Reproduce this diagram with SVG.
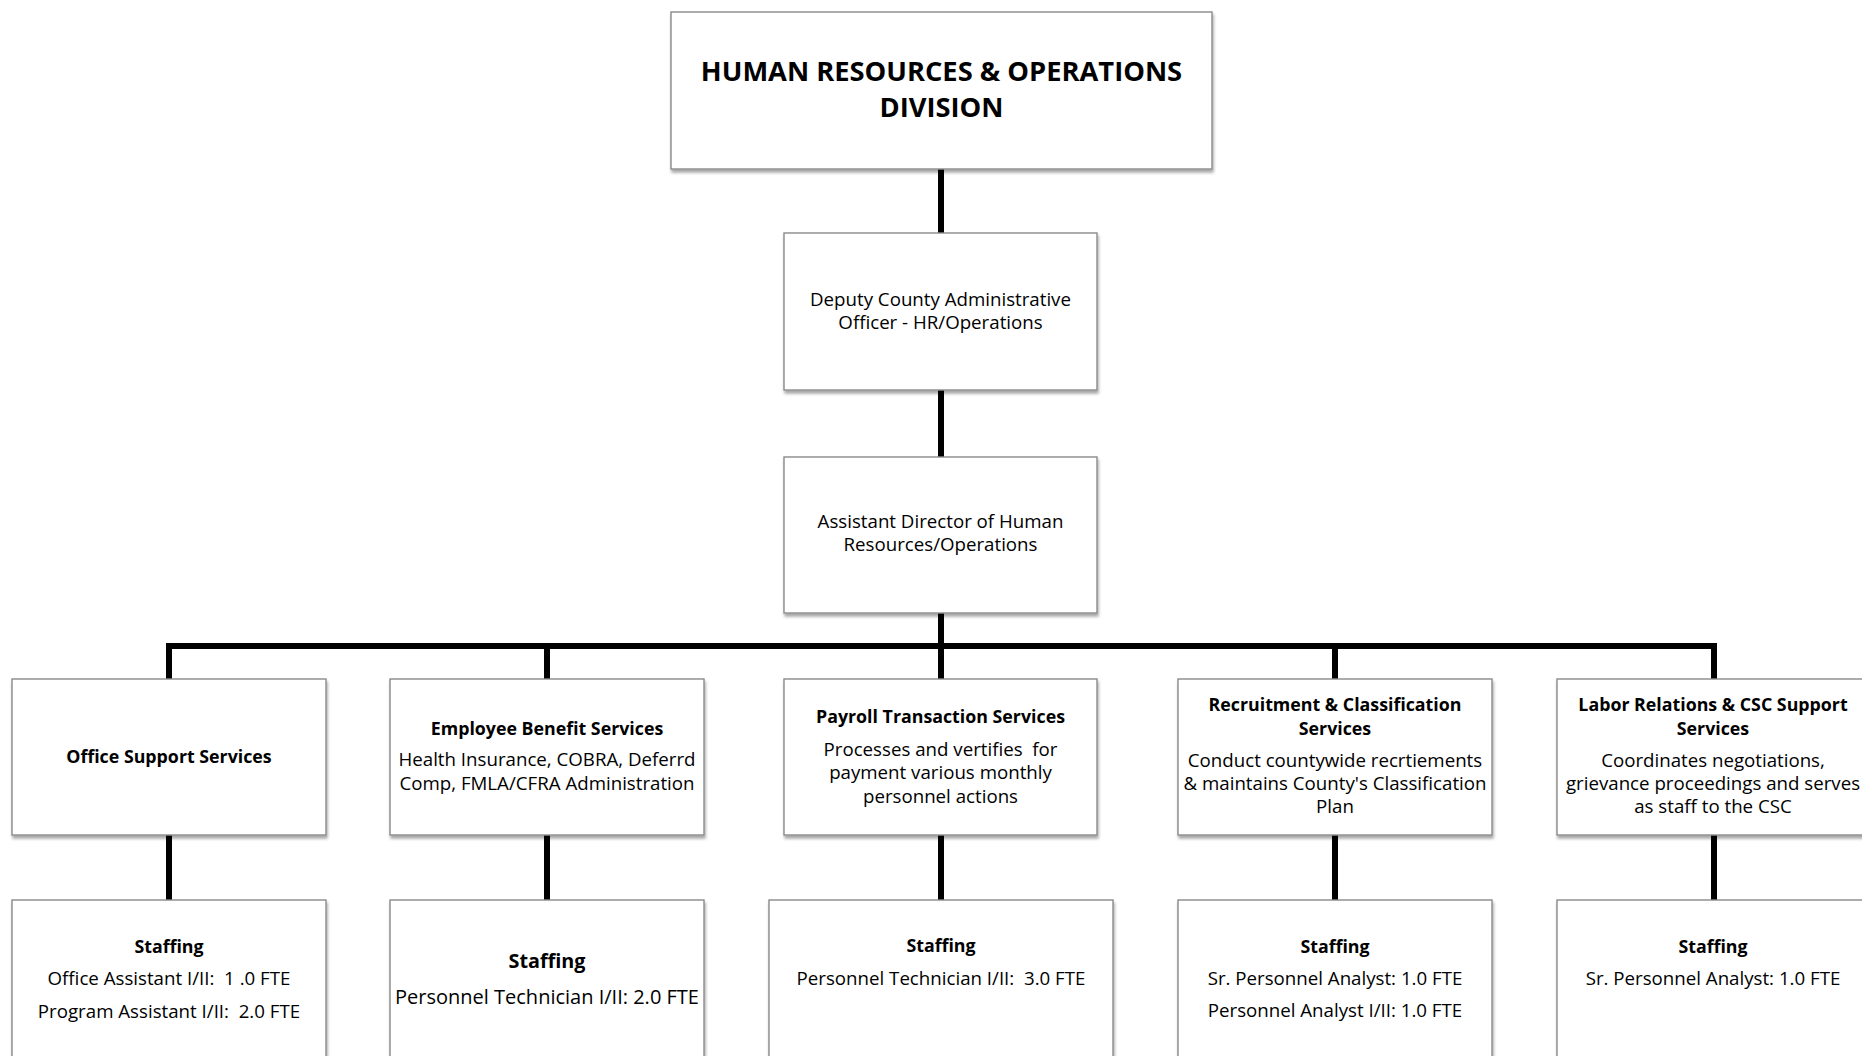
<svg xmlns="http://www.w3.org/2000/svg" width="1862" height="1056" viewBox="0 0 1862 1056" xml:space="preserve">
<style>
.box{fill:#fff;stroke:#8a8a8a;stroke-width:1.4;filter:url(#sh)}
.ln{fill:none;stroke:#000;stroke-width:6;stroke-linejoin:miter;stroke-linecap:butt}
text{font-family:"Open Sans",Lato,"Liberation Sans",sans-serif;fill:#000;text-anchor:middle;white-space:pre}
.t{font-size:18.7px}
.b{font-size:17.8px;font-weight:700}
.h{font-size:27.3px;font-weight:700}
.sb{font-size:19.8px;font-weight:700}
.s2{font-size:20px}
</style>
<defs>
<filter id="sh" x="-5%" y="-5%" width="115%" height="120%">
<feDropShadow dx="1" dy="3" stdDeviation="1.6" flood-color="#000" flood-opacity="0.35"/>
</filter>
</defs>
<rect width="1862" height="1056" fill="#fff"/>
<g id="connectors">
<path class="ln" d="M941,169 V233"/>
<path class="ln" d="M941,390 V457"/>
<path class="ln" d="M941,613 V679"/>
<path class="ln" d="M169,679 V646 H1714 V679"/>
<path class="ln" d="M547,646 V679"/>
<path class="ln" d="M1335,646 V679"/>
<path class="ln" d="M169,835 V900"/>
<path class="ln" d="M547,835 V900"/>
<path class="ln" d="M941,835 V900"/>
<path class="ln" d="M1335,835 V900"/>
<path class="ln" d="M1714,835 V900"/>
</g>
<g id="division">
<rect class="box" x="671" y="12" width="541" height="157"/>
<text class="h" x="941.5" y="81">HUMAN RESOURCES &amp; OPERATIONS</text>
<text class="h" x="941.5" y="117">DIVISION</text>
</g>
<g id="deputy">
<rect class="box" x="784" y="233" width="313" height="157"/>
<text class="t" x="940.5" y="306">Deputy County Administrative</text>
<text class="t" x="940.5" y="329">Officer - HR/Operations</text>
</g>
<g id="assistant">
<rect class="box" x="784" y="457" width="313" height="156"/>
<text class="t" x="940.5" y="528">Assistant Director of Human</text>
<text class="t" x="940.5" y="551">Resources/Operations</text>
</g>
<g id="office">
<rect class="box" x="12" y="679" width="314" height="156"/>
<text class="b" x="169" y="763">Office Support Services</text>
</g>
<g id="benefits">
<rect class="box" x="390" y="679" width="314" height="156"/>
<text class="b" x="547" y="735">Employee Benefit Services</text>
<text class="t" x="547" y="766">Health Insurance, COBRA, Deferrd</text>
<text class="t" x="547" y="790">Comp, FMLA/CFRA Administration</text>
</g>
<g id="payroll">
<rect class="box" x="784" y="679" width="313" height="156"/>
<text class="b" x="940.5" y="723">Payroll Transaction Services</text>
<text class="t" x="940.5" y="756">Processes and vertifies  for</text>
<text class="t" x="940.5" y="779">payment various monthly</text>
<text class="t" x="940.5" y="803">personnel actions</text>
</g>
<g id="recruitment">
<rect class="box" x="1178" y="679" width="314" height="156"/>
<text class="b" x="1335" y="711">Recruitment &amp; Classification</text>
<text class="b" x="1335" y="735">Services</text>
<text class="t" x="1335" y="767">Conduct countywide recrtiements</text>
<text class="t" x="1335" y="790">&amp; maintains County's Classification</text>
<text class="t" x="1335" y="813">Plan</text>
</g>
<g id="labor">
<rect class="box" x="1557" y="679" width="314" height="156"/>
<text class="b" x="1713" y="711">Labor Relations &amp; CSC Support</text>
<text class="b" x="1713" y="735">Services</text>
<text class="t" x="1713" y="767">Coordinates negotiations,</text>
<text class="t" x="1713" y="790">grievance proceedings and serves</text>
<text class="t" x="1713" y="813">as staff to the CSC</text>
</g>
<g id="office-staffing">
<rect class="box" x="12" y="900" width="314" height="170"/>
<text class="b" x="169" y="953">Staffing</text>
<text class="t" x="169" y="985">Office Assistant I/II:  1 .0 FTE</text>
<text class="t" x="169" y="1018">Program Assistant I/II:  2.0 FTE</text>
</g>
<g id="benefits-staffing">
<rect class="box" x="390" y="900" width="314" height="170"/>
<text class="sb" x="547" y="968">Staffing</text>
<text class="s2" x="547" y="1004">Personnel Technician I/II: 2.0 FTE</text>
</g>
<g id="payroll-staffing">
<rect class="box" x="769" y="900" width="344" height="170"/>
<text class="b" x="941" y="952">Staffing</text>
<text class="t" x="941" y="985">Personnel Technician I/II:  3.0 FTE</text>
</g>
<g id="recruitment-staffing">
<rect class="box" x="1178" y="900" width="314" height="170"/>
<text class="b" x="1335" y="953">Staffing</text>
<text class="t" x="1335" y="985">Sr. Personnel Analyst: 1.0 FTE</text>
<text class="t" x="1335" y="1017">Personnel Analyst I/II: 1.0 FTE</text>
</g>
<g id="labor-staffing">
<rect class="box" x="1557" y="900" width="314" height="170"/>
<text class="b" x="1713" y="953">Staffing</text>
<text class="t" x="1713" y="985">Sr. Personnel Analyst: 1.0 FTE</text>
</g>
</svg>
